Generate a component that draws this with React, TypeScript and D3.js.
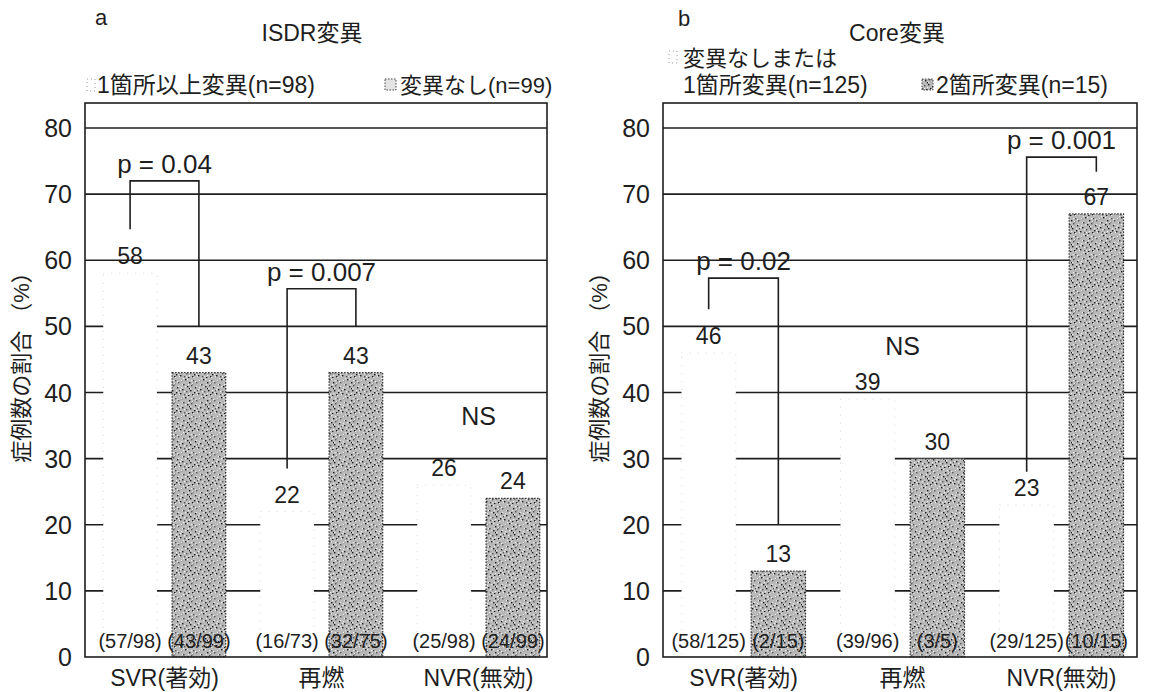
import React from 'react';
import * as d3 from 'd3';

const width = 1154;
const height = 692;
const font = '"Liberation Sans", "Noto Sans CJK JP", sans-serif';
const ink = '#1e1e1e';

const categories = ['SVR(著効)', '再燃', 'NVR(無効)'];
const yTicks = [0, 10, 20, 30, 40, 50, 60, 70, 80];
const seriesKeys = ['s1', 's2'];

// a: ISDR変異
const isdrMutValues = [58, 22, 26];
const isdrMutCounts = ['(57/98)', '(16/73)', '(25/98)'];
const isdrWildValues = [43, 43, 24];
const isdrWildCounts = ['(43/99)', '(32/75)', '(24/99)'];
const isdrBrackets = [
  { text: 'p = 0.04', cat: 0, top: 72, leftEnd: 64.7, rightEnd: 50 },
  { text: 'p = 0.007', cat: 1, top: 55.7, leftEnd: 28.5, rightEnd: 50 },
];
const isdrNs = { cat: 2, value: 36.5 };

// b: Core変異
const coreLowValues = [46, 39, 23];
const coreLowCounts = ['(58/125)', '(39/96)', '(29/125)'];
const coreDoubleValues = [13, 30, 67];
const coreDoubleCounts = ['(2/15)', '(3/5)', '(10/15)'];
const coreBrackets = [
  { text: 'p = 0.02', cat: 0, top: 57.3, leftEnd: 52.6, rightEnd: 20 },
  { text: 'p = 0.001', cat: 2, top: 75.6, leftEnd: 28, rightEnd: 73.4 },
];
const coreNs = { cat: 1, value: 47 };

// speckle texture for the shaded bars
const speckle = [
  [1, 2], [5, 1], [9, 4], [13, 2], [3, 6], [7, 8], [11, 7], [15, 9], [2, 11],
  [6, 13], [10, 12], [14, 14], [4, 16], [8, 17], [12, 16], [16, 4], [0, 15], [9, 10],
  [17, 12], [12, 5],
];

const yScale = d3.scaleLinear().domain([0, 80]).range([657, 128]);
const frameTop = 103;

type Bracket = { text: string; cat: number; top: number; leftEnd: number; rightEnd: number };

type PanelProps = {
  left: number;
  right: number;
  bandStart: number;
  step: number;
  v1: number[];
  c1: string[];
  v2: number[];
  c2: string[];
  brackets: Bracket[];
  ns: { cat: number; value: number };
};

function Panel({ left, right, bandStart, step, v1, c1, v2, c2, brackets, ns }: PanelProps) {
  const x = d3.scaleBand().domain(categories).range([bandStart, bandStart + step * 3]);
  const bw = x.bandwidth();
  const sub = d3.scaleBand().domain(seriesKeys).range([bw * 0.11, bw * 0.89]).paddingInner(0.22);
  const barW = sub.bandwidth();
  const cx = (i: number, k: string) => (x(categories[i]) as number) + (sub(k) as number) + barW / 2;

  return (
    <g fontFamily={font} fill={ink}>
      {/* gridlines */}
      {yTicks.filter(t => t > 0).map(t => (
        <line key={t} x1={left} x2={right} y1={yScale(t)} y2={yScale(t)} stroke={ink} strokeWidth={1.6} />
      ))}
      {/* bars */}
      {categories.map((c, i) => (
        <g key={c}>
          <rect x={cx(i, 's1') - barW / 2} y={yScale(v1[i])} width={barW} height={yScale(0) - yScale(v1[i])}
            fill="#fff" stroke="#d6d6d6" strokeDasharray="1 7" strokeWidth={1} />
          <rect x={cx(i, 's2') - barW / 2} y={yScale(v2[i])} width={barW} height={yScale(0) - yScale(v2[i])}
            fill="url(#speckle)" stroke="#333" strokeDasharray="1.5 1.5" strokeWidth={1.2} />
          <text x={cx(i, 's1')} y={yScale(v1[i]) - 9} textAnchor="middle" fontSize={23}>{v1[i]}</text>
          <text x={cx(i, 's2')} y={yScale(v2[i]) - 9} textAnchor="middle" fontSize={23}>{v2[i]}</text>
          <text x={cx(i, 's1')} y={648} textAnchor="middle" fontSize={20}>{c1[i]}</text>
          <text x={cx(i, 's2')} y={648} textAnchor="middle" fontSize={20}>{c2[i]}</text>
          <text x={(x(c) as number) + bw / 2} y={686} textAnchor="middle" fontSize={23}>{c}</text>
        </g>
      ))}
      {/* frame */}
      <rect x={left} y={frameTop} width={right - left} height={yScale(0) - frameTop} fill="none" stroke={ink} strokeWidth={1.6} />
      {/* y axis labels */}
      {yTicks.map(t => (
        <text key={t} x={left - 13} y={yScale(t) + 9} textAnchor="end" fontSize={25}>{t}</text>
      ))}
      {/* brackets */}
      {brackets.map(b => {
        const xl = cx(b.cat, 's1');
        const xr = cx(b.cat, 's2');
        return (
          <g key={b.text}>
            <path d={`M${xl},${yScale(b.leftEnd)}V${yScale(b.top)}H${xr}V${yScale(b.rightEnd)}`}
              fill="none" stroke={ink} strokeWidth={1.6} />
            <text x={(xl + xr) / 2} y={yScale(b.top) - 8} textAnchor="middle" fontSize={26}>{b.text}</text>
          </g>
        );
      })}
      <text x={(x(categories[ns.cat]) as number) + bw / 2} y={yScale(ns.value) + 9} textAnchor="middle" fontSize={25}>NS</text>
    </g>
  );
}

export default function App() {
  return (
    <svg width={width} height={height} style={{ position: 'absolute', left: 0, top: 0, background: '#fff' }}>
      <defs>
        <pattern id="speckle" width={18} height={18} patternUnits="userSpaceOnUse">
          <rect width={18} height={18} fill="#b8b8b8" />
          {speckle.map(([px, py], i) => (
            <rect key={i} x={px} y={py} width={1.4} height={1.4} fill={i % 3 === 0 ? '#555' : '#1c1c1c'} />
          ))}
          {speckle.map(([px, py], i) => (
            <rect key={'w' + i} x={(px + 7) % 18} y={(py + 4) % 18} width={1.2} height={1.2} fill="#eee" />
          ))}
        </pattern>
      </defs>

      <g fontFamily={font} fill={ink}>
        {/* panel a header */}
        <text x={95} y={25} fontSize={22}>a</text>
        <text x={312} y={41} fontSize={23} textAnchor="middle">ISDR変異</text>
        <rect x={87} y={79} width={8} height={12} fill="#fff" stroke="#999" strokeDasharray="1 3" />
        <text x={97} y={93} fontSize={23}>1箇所以上変異(n=98)</text>
        <rect x={385} y={79} width={11} height={11} fill="#e4e4e4" stroke="#444" strokeDasharray="1.5 1.5" />
        <text x={400} y={93} fontSize={22}>変異なし(n=99)</text>
        <text transform="translate(29,362) rotate(-90)" fontSize={22} textAnchor="middle">症例数の割合 （%）</text>

        {/* panel b header */}
        <text x={678} y={26} fontSize={22}>b</text>
        <text x={897} y={41} fontSize={23} textAnchor="middle">Core変異</text>
        <rect x={669} y={51} width={8} height={12} fill="#fff" stroke="#999" strokeDasharray="1 3" />
        <text x={683} y={66} fontSize={22}>変異なしまたは</text>
        <text x={683} y={93} fontSize={23}>1箇所変異(n=125)</text>
        <rect x={922} y={79} width={11} height={11} fill="url(#speckle)" stroke="#444" strokeDasharray="1.5 1.5" />
        <text x={936} y={93} fontSize={23}>2箇所変異(n=15)</text>
        <text transform="translate(607,362) rotate(-90)" fontSize={22} textAnchor="middle">症例数の割合 （%）</text>
      </g>

      <Panel left={85} right={547} bandStart={86} step={157}
        v1={isdrMutValues} c1={isdrMutCounts} v2={isdrWildValues} c2={isdrWildCounts}
        brackets={isdrBrackets} ns={isdrNs} />
      <Panel left={663} right={1137} bandStart={664} step={159}
        v1={coreLowValues} c1={coreLowCounts} v2={coreDoubleValues} c2={coreDoubleCounts}
        brackets={coreBrackets} ns={coreNs} />
    </svg>
  );
}
